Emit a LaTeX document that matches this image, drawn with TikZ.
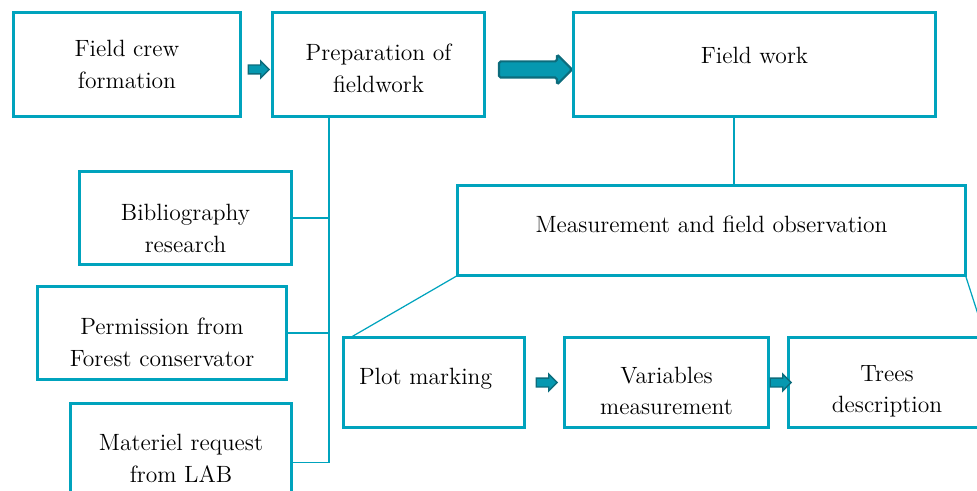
\documentclass[tikz,border=0pt]{standalone}
\usepackage{xcolor}
\usepackage{tikz}
\usetikzlibrary{shapes.arrows, positioning, calc}
\definecolor{tealline}{RGB}{0,163,189}
\definecolor{tealfill}{RGB}{6,152,176}
\definecolor{tealdark}{RGB}{12,108,124}
\tikzset{
    box/.style = {
        rectangle,
        draw=tealline,
        line width=2pt,
        outer sep=0pt,
        align=center,
        font=\fontsize{13.4}{18}\selectfont,
        minimum height=1.86cm
    },
    lowtext/.style = {
        execute at begin node=\rule{0pt}{#1}
    },
    trunk/.style = {
        draw=tealline,
        line width=1.1pt
    },
    twig/.style = {
        draw=tealline,
        line width=0.7pt
    },
    smallarrow/.style = {
        single arrow,
        draw=tealdark,
        fill=tealfill,
        line width=0.8pt,
        inner sep=0pt,
        text height=0.15cm,
        text depth=0pt,
        single arrow head extend=0.08cm,
        minimum height=0.42cm
    },
    bigarrow/.style = {
        single arrow,
        draw=tealdark,
        fill=tealfill,
        line width=1.2pt,
        rounded corners=1pt,
        inner sep=0pt,
        text height=0.28cm,
        text depth=0pt,
        single arrow head extend=0.14cm,
        minimum height=1.46cm
    }
}

\begin{document}
\begin{tikzpicture}[
    node distance=0.6cm and 0.6cm
]
\clip (0,0) rectangle (19.54,-9.82);

% Top row
\node [box, minimum width=4.54cm, minimum height=2.08cm] (crew) at (2.54,-1.29) {Field crew\\formation};
\node [box, minimum width=4.24cm, minimum height=2.08cm, lowtext=32pt, right=0.64cm of crew] (prep) {Preparation of\\fieldwork};
\node [box, minimum width=7.24cm, minimum height=2.08cm, text depth=10.5pt, right=1.78cm of prep] (fieldwork) {Field work};

\node [smallarrow] (a1) at ([yshift=-0.1cm]$(crew.east)!0.5!(prep.west)$) {};
\node [bigarrow, anchor=tip] (a2) at ([yshift=-0.1cm]fieldwork.west) {};

% Preparation branch
\node [box, minimum width=4.24cm, lowtext=39pt, below=1.1cm of prep, xshift=-3.86cm] (biblio) {Bibliography\\research};
\node [box, minimum width=4.98cm, lowtext=38pt, below=0.44cm of biblio, xshift=-0.47cm] (permit) {Permission from\\Forest conservator};
\node [box, minimum width=4.42cm, lowtext=37pt, below=0.48cm of permit, xshift=0.38cm] (materiel) {Materiel request\\from LAB};

\coordinate (spinetop) at ([xshift=-0.99cm]prep.south);
\coordinate (spineend) at ([yshift=-0.25cm]materiel.east -| spinetop);
\draw [trunk] (spinetop) -- (spineend);
\draw [twig] (biblio.east) -- (biblio.east -| spinetop);
\draw [twig] (permit.east) -- (permit.east -| spinetop);
\draw [twig] ([yshift=-0.25cm]materiel.east) -- (spineend);

% Field work branch
\node [box, minimum width=10.16cm, minimum height=1.8cm, text depth=7.5pt, below=1.38cm of fieldwork, xshift=-0.86cm] (measure) {Measurement and field observation};
\draw [twig] ([xshift=-0.41cm]fieldwork.south) -- ([xshift=-0.41cm]fieldwork.south |- measure.north);

\node [box, minimum width=3.62cm, minimum height=1.8cm, text width=3.0cm, align=left, text depth=7pt, below=1.24cm of measure, xshift=-5.55cm] (plot) {Plot marking};
\node [box, minimum width=4.08cm, minimum height=1.8cm, lowtext=37pt, right=0.8cm of plot] (vars) {Variables\\measurement};
\node [box, minimum width=3.94cm, minimum height=1.8cm, lowtext=37pt, right=0.4cm of vars] (trees) {Trees\\description};

\draw [twig] (measure.south west) -- ([xshift=0.14cm]plot.north west);
\draw [twig] (measure.south east) -- (trees.north east);

\node [smallarrow] (a3) at ($(plot.east)!0.5!(vars.west)$) {};
\node [smallarrow] (a4) at ($(vars.east)!0.5!(trees.west)$) {};

\end{tikzpicture}
\end{document}
